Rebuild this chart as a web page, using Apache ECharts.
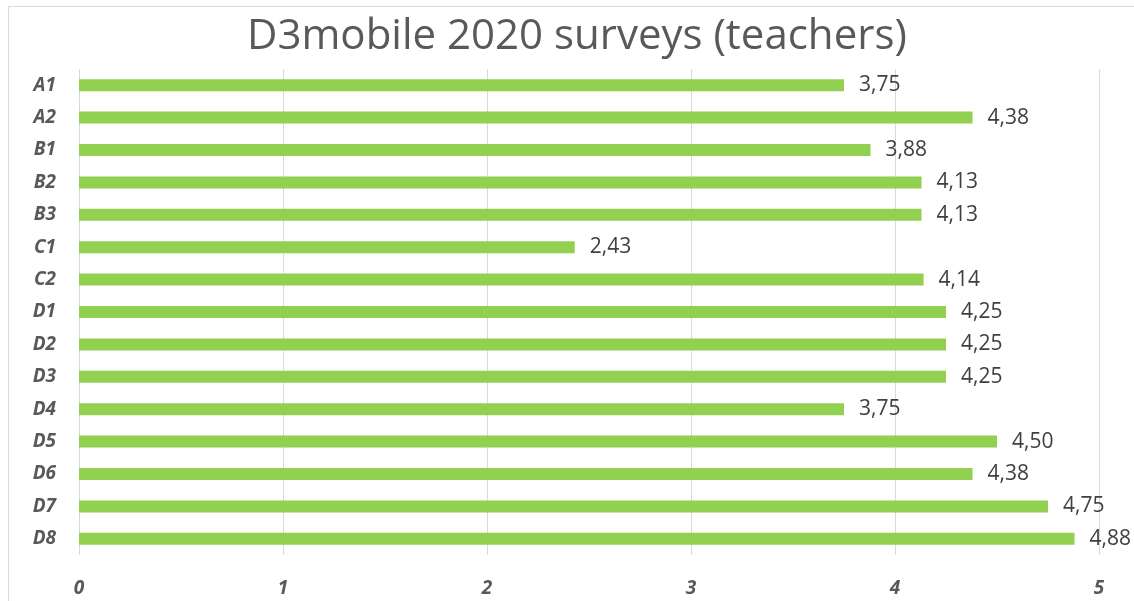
<!DOCTYPE html>
<html><head><meta charset="utf-8">
<script src="https://cdn.jsdelivr.net/npm/echarts@6/dist/echarts.min.js"></script>
<style>html,body{margin:0;padding:0;background:#fff;overflow:hidden}#c{width:1134px;height:601px}
#frame{position:absolute;left:8px;top:6px;width:1200px;height:700px;border:1px solid #d9d9d9;box-sizing:border-box;pointer-events:none}</style>
</head><body><div id="c"></div><div id="frame"></div>
<script>
const categories = ['A1','A2','B1','B2','B3','C1','C2','D1','D2','D3','D4','D5','D6','D7','D8'];
const values = [3.75,4.38,3.88,4.13,4.13,2.43,4.14,4.25,4.25,4.25,3.75,4.50,4.38,4.75,4.88];
const xTicks = [0,1,2,3,4,5];
const chart = echarts.init(document.getElementById('c'));
chart.setOption({
  animation:false,
  title:{text:'D3mobile 2020 surveys (teachers)',left:242,top:11,
    textStyle:{fontFamily:'Open Sans',fontSize:42,fontWeight:'normal',color:'#595959'}},
  grid:{left:79,right:35,top:69,bottom:46,containLabel:false},
  xAxis:{type:'value',min:xTicks[0],max:xTicks[xTicks.length-1],interval:1,
    axisLine:{show:false},axisTick:{show:false},
    splitLine:{lineStyle:{color:'#d9d9d9',width:1}},
    axisLabel:{margin:24,fontFamily:'Open Sans',fontSize:19,fontWeight:'bold',fontStyle:'italic',color:'#595959'}},
  yAxis:{type:'category',data:categories,inverse:true,
    axisLine:{show:false},axisTick:{show:false},
    axisLabel:{margin:23,fontFamily:'Open Sans',fontSize:19,fontWeight:'bold',fontStyle:'italic',color:'#595959'}},
  series:[{type:'bar',data:values,barWidth:12,itemStyle:{color:'#92d050'},
    label:{show:true,position:'right',distance:15,fontFamily:'Open Sans',fontSize:21,color:'#404040',
      formatter:p=>p.value.toFixed(2).replace('.',',')}}]
});
</script></body></html>
